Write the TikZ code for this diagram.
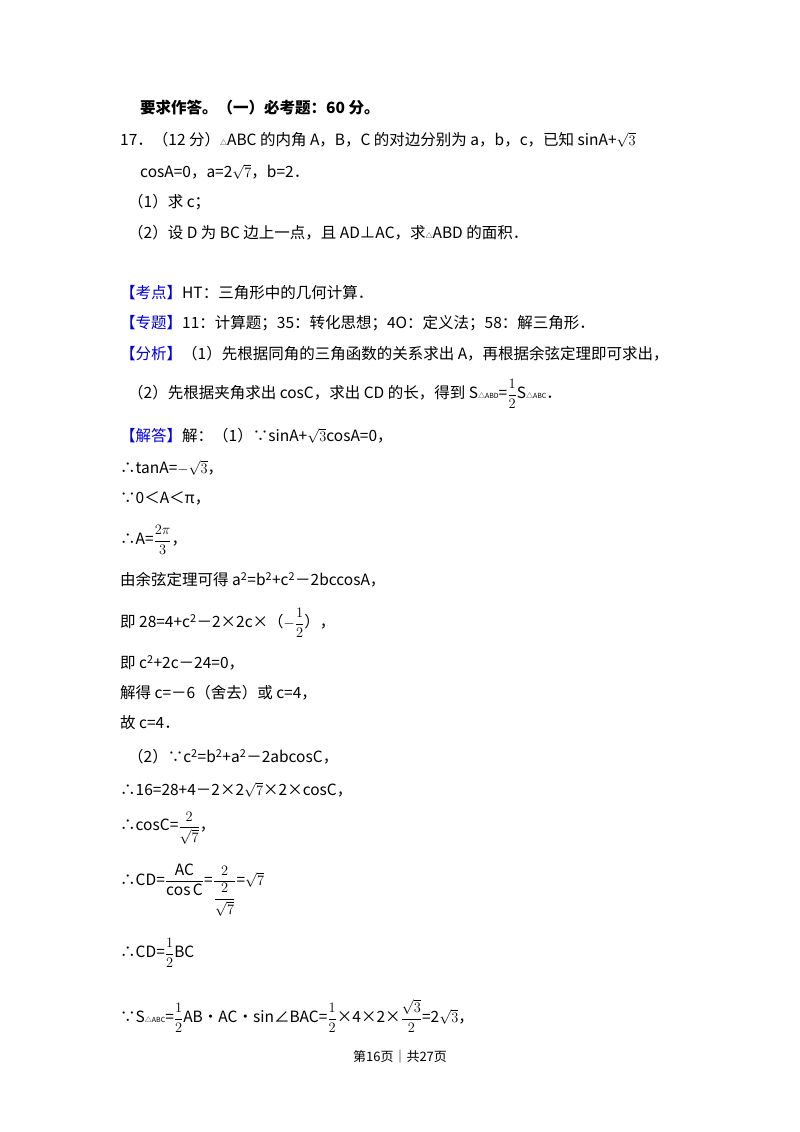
\documentclass[tikz,border=0pt]{standalone}
\usepackage{amsmath}
\usepackage{fontspec}
\setmainfont{Noto Sans CJK SC}
\begin{document}
\begin{tikzpicture}[x=1pt,y=-1pt,
 ln/.style={anchor=west,inner sep=0pt,font=\fontsize{15.5}{18}\selectfont}]
\useasboundingbox (0,0) rectangle (800,1132);
\newcommand\sm[1]{{\fontsize{7}{8}\selectfont #1}}
\newcommand\hf[2]{\dfrac{#1}{#2}}
\node[ln,font=\fontsize{15.5}{18}\selectfont\bfseries] (l0) at (140,108) {要求作答。（一）必考题：60 分。};
\node[ln] (l1) at (120,140) {17．（12 分）\sm{△}ABC 的内角 A，B，C 的对边分别为 a，b，c，已知 sinA+$\sqrt{3}$};
\node[ln] (l2) at (140,172) {cosA=0，a=2$\sqrt{7}$，b=2．};
\node[ln] (l3) at (128,202) {（1）求 c；};
\node[ln] (l4) at (128,233) {（2）设 D 为 BC 边上一点，且 AD⊥AC，求\sm{△}ABD 的面积．};
\node[ln] (l5) at (120,293) {\textcolor{blue!85!black}{【考点】}HT：三角形中的几何计算．};
\node[ln] (l6) at (120,323) {\textcolor{blue!85!black}{【专题】}11：计算题；35：转化思想；4O：定义法；58：解三角形．};
\node[ln] (l7) at (120,354) {\textcolor{blue!85!black}{【分析】}（1）先根据同角的三角函数的关系求出 A，再根据余弦定理即可求出，};
\node[ln] (l8) at (128,394) {（2）先根据夹角求出 cosC，求出 CD 的长，得到 S\sm{△ABD}=$\hf{1}{2}$S\sm{△ABC}．};
\node[ln] (l9) at (120,436) {\textcolor{blue!85!black}{【解答】}解：（1）∵sinA+$\sqrt{3}$cosA=0，};
\node[ln] (l10) at (120,468) {∴tanA=$-\sqrt{3}$，};
\node[ln] (l11) at (120,498) {∵0＜A＜π，};
\node[ln] (l12) at (120,540) {∴A=$\hf{2\pi}{3}$，};
\node[ln] (l13) at (120,580) {由余弦定理可得 a\textsuperscript{2}=b\textsuperscript{2}+c\textsuperscript{2}－2bccosA，};
\node[ln] (l14) at (120,623) {即 28=4+c\textsuperscript{2}－2×2c×（$-\hf{1}{2}$），};
\node[ln] (l15) at (120,663) {即 c\textsuperscript{2}+2c－24=0，};
\node[ln] (l16) at (120,693) {解得 c=－6（舍去）或 c=4，};
\node[ln] (l17) at (120,723) {故 c=4．};
\node[ln] (l18) at (128,757) {（2）∵c\textsuperscript{2}=b\textsuperscript{2}+a\textsuperscript{2}－2abcosC，};
\node[ln] (l19) at (120,790) {∴16=28+4－2×2$\sqrt{7}$×2×cosC，};
\node[ln] (l20) at (120,828) {∴cosC=$\hf{2}{\sqrt{7}}$，};
\node[ln] (l21) at (120,890) {∴CD=$\hf{\mathrm{AC}}{\cos\mathrm{C}}$=$\dfrac{2}{\dfrac{2}{\sqrt{7}}}$=$\sqrt{7}$};
\node[ln] (l22) at (120,953) {∴CD=$\hf{1}{2}$BC};
\node[ln] (l23) at (120,1016) {∵S\sm{△ABC}=$\hf{1}{2}$AB•AC•sin∠BAC=$\hf{1}{2}$×4×2×$\hf{\sqrt{3}}{2}$=2$\sqrt{3}$，};
\node[anchor=center,inner sep=0pt,font=\fontsize{13}{15}\selectfont] (ft) at (400,1057) {第16页｜共27页};
\end{tikzpicture}
\end{document}
